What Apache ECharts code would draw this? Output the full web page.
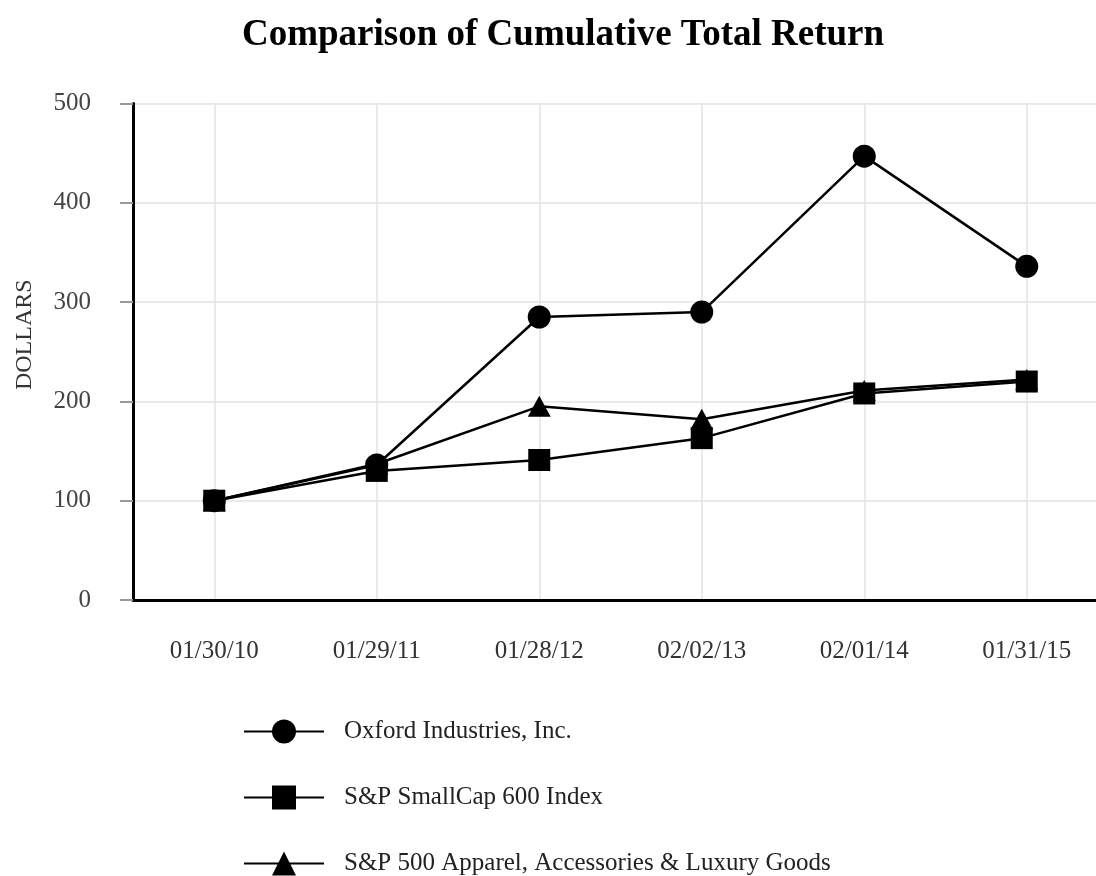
<!DOCTYPE html>
<html>
<head>
<meta charset="utf-8">
<title>Comparison of Cumulative Total Return</title>
<script src="https://cdn.jsdelivr.net/npm/echarts@6/dist/echarts.min.js"></script>
<style>
  html, body { margin: 0; padding: 0; background: #fff; }
  #chart { width: 1096px; height: 876px; }
</style>
</head>
<body>
<div id="chart"></div>
<script>
// data
const dates = ['01/30/10', '01/29/11', '01/28/12', '02/02/13', '02/01/14', '01/31/15'];
const oxford = [100, 136, 285, 290, 447, 336];
const smallCap = [100, 130, 141, 163, 208, 220];
const apparel = [100, 137, 195, 182, 211, 222];
const yTicks = [0, 100, 200, 300, 400, 500];

const FONT = '"Liberation Serif", "DejaVu Serif", serif';

let myChart;
document.addEventListener('DOMContentLoaded', () => {
    myChart = echarts.init(document.getElementById('chart'));
    drawChart();
});

function lineSeries(name, data, symbol, size, z) {
    return {
        name: name,
        type: 'line',
        data: data,
        symbol: symbol,
        symbolSize: size,
        z: z,
        lineStyle: { color: '#000', width: 2.5 },
        itemStyle: { color: '#000' },
        emphasis: { disabled: true }
    };
}

function drawChart() {
    const seriesList = [
        lineSeries('Oxford Industries, Inc.', oxford, 'circle', 23, 2),
        lineSeries('S&P SmallCap 600 Index', smallCap, 'rect', 22, 4),
        lineSeries('S&P 500 Apparel, Accessories & Luxury Goods', apparel, 'triangle', [23, 21], 3)
    ];

    myChart.setOption({
        animation: false,
        backgroundColor: '#ffffff',
        textStyle: { fontFamily: FONT },
        title: {
            text: 'Comparison of Cumulative Total Return',
            left: 237,
            top: 12,
            textStyle: { fontFamily: FONT, fontSize: 37, fontWeight: 'bold', color: '#000' }
        },
        legend: {
            orient: 'vertical',
            left: 243,
            top: 719,
            padding: 0,
            itemWidth: 80,
            itemHeight: 30,
            itemGap: 41,
            data: seriesList.map(s => s.name),
            textStyle: { fontFamily: FONT, fontSize: 25, color: '#222', padding: [0, 0, 0, 15] }
        },
        // grid runs past the right edge of the picture, like the reference
        grid: { left: 133, top: 103.5, width: 975, bottom: 276, containLabel: false, outerBoundsMode: 'none' },
        xAxis: {
            type: 'category',
            data: dates,
            boundaryGap: true,
            axisLine: { lineStyle: { color: '#000', width: 3 } },
            axisTick: { alignWithLabel: true, length: 12, lineStyle: { color: '#333', width: 2 } },
            axisLabel: { margin: 39, fontFamily: FONT, fontSize: 25, color: '#333' },
            splitLine: { show: true, alignWithLabel: true, lineStyle: { color: '#e3e3e3', width: 1.5 } }
        },
        yAxis: {
            type: 'value',
            min: yTicks[0],
            max: yTicks[yTicks.length - 1],
            interval: 100,
            name: 'DOLLARS',
            nameLocation: 'middle',
            nameRotate: 90,
            nameGap: 96,
            nameTextStyle: { fontFamily: FONT, fontSize: 24, color: '#333', padding: [0, 0, 0, 34] },
            axisLine: { show: true, lineStyle: { color: '#000', width: 3 } },
            axisTick: { show: true, length: 13, lineStyle: { color: '#999', width: 2 } },
            axisLabel: { margin: 42, fontFamily: FONT, fontSize: 25, color: '#444' },
            splitLine: { lineStyle: { color: '#e3e3e3', width: 1.5 } }
        },
        series: seriesList
    });
}
</script>
</body>
</html>
